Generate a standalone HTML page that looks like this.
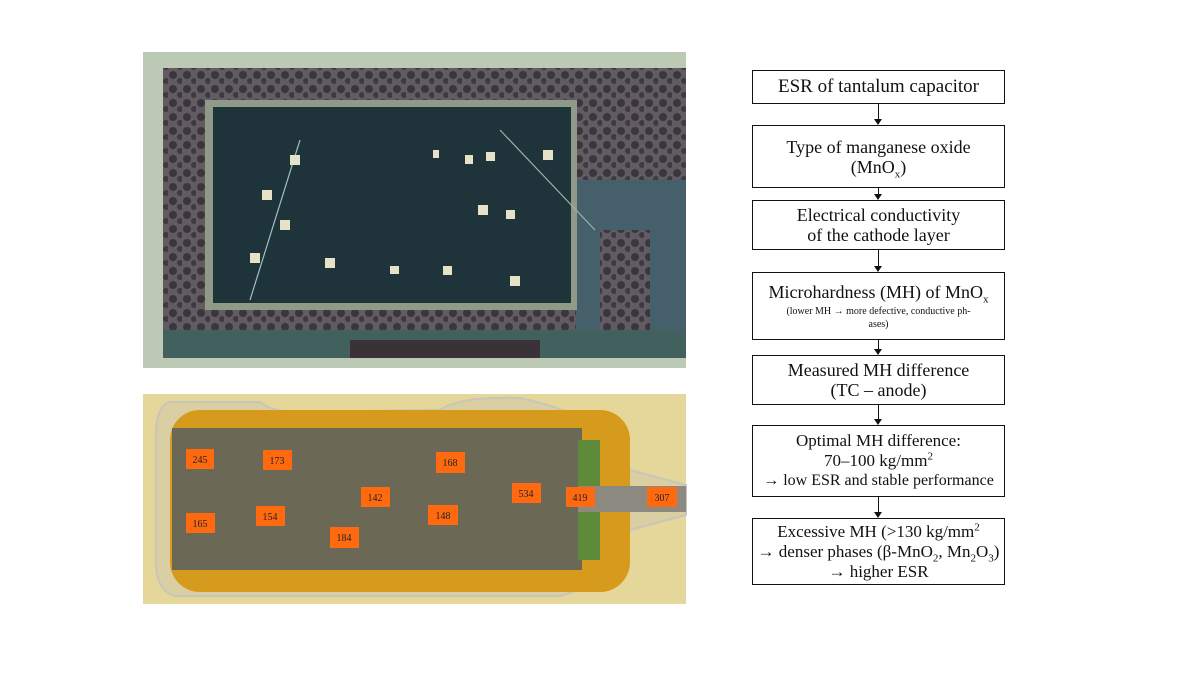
<!DOCTYPE html>
<html><head><meta charset="utf-8"><style>
html,body{margin:0;padding:0;background:#fff;}
body{width:1200px;height:675px;position:relative;overflow:hidden;font-family:"Liberation Serif",serif;}
.b{position:absolute;left:752px;width:253px;border:1.5px solid #111;box-sizing:border-box;text-align:center;color:#111;font-size:18px;line-height:20px;display:flex;flex-direction:column;justify-content:center;background:#fff;}
.a{position:absolute;left:878px;width:1px;background:#111;}
.h{position:absolute;left:874px;width:0;height:0;border-left:4px solid transparent;border-right:4px solid transparent;border-top:6px solid #111;}
sub,sup{font-size:11px;line-height:0;}
</style></head><body>
<svg width="1200" height="675" style="position:absolute;left:0;top:0">
<defs>
<pattern id="por" width="14" height="14" patternUnits="userSpaceOnUse">
<rect width="14" height="14" fill="#625c62"/><circle cx="5" cy="5" r="4" fill="#3a363e"/><circle cx="12" cy="11" r="3" fill="#3e3a44"/>
</pattern>
</defs>
<rect x="143" y="52" width="543" height="316" fill="#bcc9b4"/>
<rect x="163" y="68" width="523" height="262" fill="url(#por)"/>
<rect x="576" y="180" width="110" height="150" fill="#45606a"/>
<rect x="600" y="230" width="50" height="100" fill="url(#por)"/>
<rect x="205" y="100" width="372" height="210" fill="#8f9a88"/>
<rect x="213" y="107" width="358" height="196" fill="#1f333b"/>
<rect x="163" y="330" width="523" height="28" fill="#42605e"/>
<rect x="350" y="340" width="190" height="18" fill="#3a3236"/>
<line x1="250" y1="300" x2="300" y2="140" stroke="#9fc2c4" stroke-width="1.2"/>
<line x1="500" y1="130" x2="595" y2="230" stroke="#9fb2a8" stroke-width="1.2"/>
<g fill="#e6e2c8">
<rect x="290" y="155" width="10" height="10"/><rect x="262" y="190" width="10" height="10"/><rect x="280" y="220" width="10" height="10"/>
<rect x="250" y="253" width="10" height="10"/><rect x="325" y="258" width="10" height="10"/><rect x="390" y="266" width="9" height="8"/>
<rect x="443" y="266" width="9" height="9"/><rect x="510" y="276" width="10" height="10"/><rect x="478" y="205" width="10" height="10"/>
<rect x="506" y="210" width="9" height="9"/><rect x="543" y="150" width="10" height="10"/><rect x="486" y="152" width="9" height="9"/>
<rect x="465" y="155" width="8" height="9"/><rect x="433" y="150" width="6" height="8"/>
</g>
<rect x="143" y="394" width="543" height="210" fill="#e5d69a"/>
<path d="M170 402 L260 402 Q270 410 290 412 L440 410 Q460 396 520 398 Q620 420 630 470 L686 485 L686 515 L630 530 Q620 580 560 596 L175 596 Q155 590 156 560 L156 430 Q158 404 170 402Z" fill="#d9cfa2" stroke="#c8c6b8" stroke-width="2"/>
<rect x="170" y="410" width="460" height="182" rx="30" fill="#d69a1c"/>
<rect x="172" y="428" width="410" height="142" fill="#6c6856"/>
<rect x="578" y="440" width="22" height="120" fill="#5f8a3a"/>
<rect x="578" y="486" width="108" height="26" fill="#8c8a80"/>
<g fill="#ff6a10">
<rect x="186" y="449" width="28" height="20"/><rect x="263" y="450" width="29" height="20"/><rect x="436" y="452" width="29" height="21"/>
<rect x="361" y="487" width="29" height="20"/><rect x="512" y="483" width="29" height="20"/><rect x="566" y="487" width="29" height="20"/>
<rect x="647" y="487" width="30" height="20"/><rect x="186" y="513" width="29" height="20"/><rect x="256" y="506" width="29" height="20"/>
<rect x="428" y="505" width="30" height="20"/><rect x="330" y="527" width="29" height="21"/>
</g>
<g font-family="Liberation Serif,serif" font-size="10" fill="#222" text-anchor="middle">
<text x="200" y="463">245</text><text x="277" y="464">173</text><text x="450" y="466">168</text>
<text x="375" y="501">142</text><text x="526" y="497">534</text><text x="580" y="501">419</text>
<text x="662" y="501">307</text><text x="200" y="527">165</text><text x="270" y="520">154</text>
<text x="443" y="519">148</text><text x="344" y="541">184</text>
</g>
</svg>

<div class="b" style="top:70px;height:34px;font-size:19px">ESR of tantalum capacitor</div>
<div class="a" style="top:104px;height:15px"></div><div class="h" style="top:119px"></div>
<div class="b" style="top:125px;height:63px"><div>Type of manganese oxide</div><div>(MnO<sub>x</sub>)</div></div>
<div class="a" style="top:188px;height:6px"></div><div class="h" style="top:194px"></div>
<div class="b" style="top:200px;height:50px"><div>Electrical conductivity</div><div>of the cathode layer</div></div>
<div class="a" style="top:250px;height:16px"></div><div class="h" style="top:266px"></div>
<div class="b" style="top:272px;height:68px"><div>Microhardness (MH) of MnO<sub>x</sub></div><div style="font-size:10px;line-height:13px;margin-top:3px">(lower MH → more defective, conductive ph-<br>ases)</div></div>
<div class="a" style="top:340px;height:9px"></div><div class="h" style="top:349px"></div>
<div class="b" style="top:355px;height:50px"><div>Measured MH difference</div><div>(TC – anode)</div></div>
<div class="a" style="top:405px;height:14px"></div><div class="h" style="top:419px"></div>
<div class="b" style="top:425px;height:72px;font-size:17px"><div>Optimal MH difference:</div><div>70–100 kg/mm<sup>2</sup></div><div style="font-size:16px">→ low ESR and stable performance</div></div>
<div class="a" style="top:497px;height:15px"></div><div class="h" style="top:512px"></div>
<div class="b" style="top:518px;height:67px;font-size:17px"><div>Excessive MH (&gt;130 kg/mm<sup>2</sup></div><div>→ denser phases (β-MnO<sub>2</sub>, Mn<sub>2</sub>O<sub>3</sub>)</div><div>→ higher ESR</div></div>
</body></html>
